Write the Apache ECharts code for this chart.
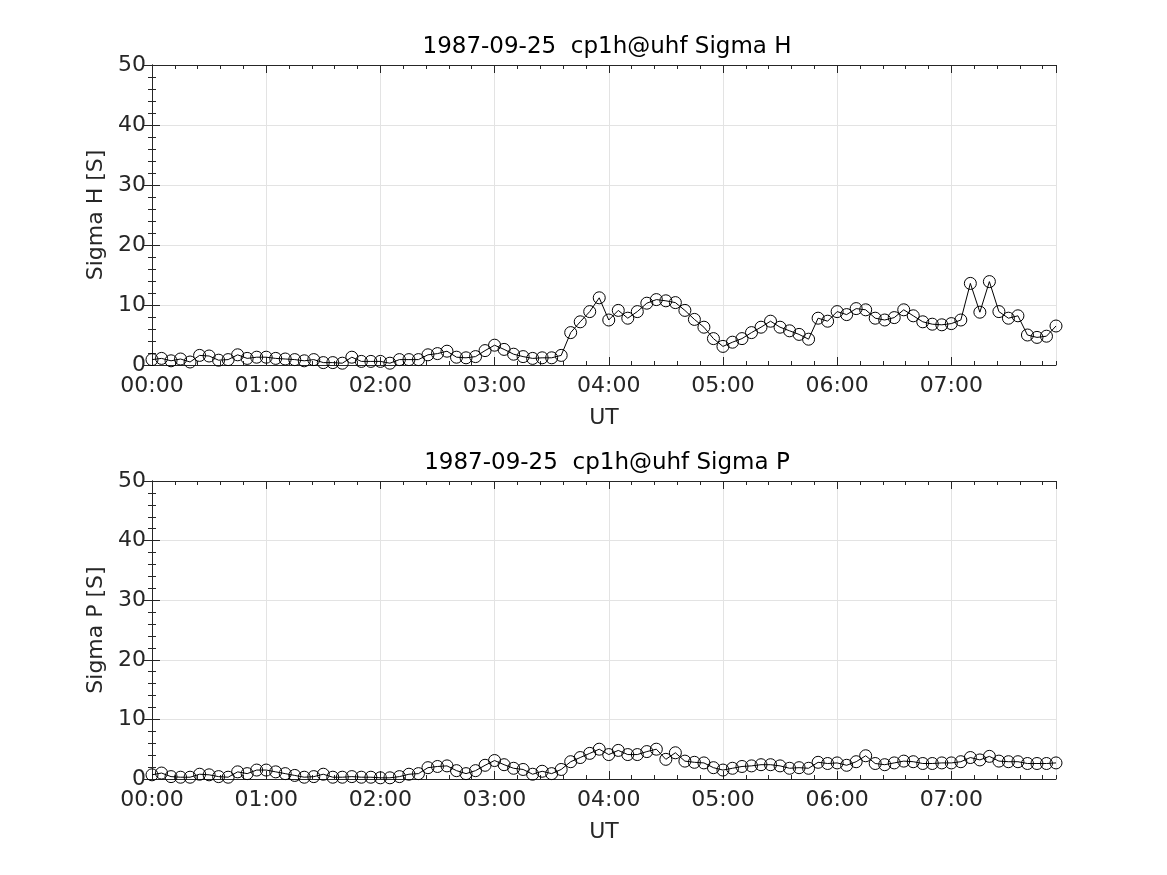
<!DOCTYPE html>
<html>
<head>
<meta charset="utf-8">
<script src="https://cdn.jsdelivr.net/npm/echarts@6/dist/echarts.min.js"></script>
<style>html,body{margin:0;padding:0;background:#fff}#c{width:1167px;height:875px}</style>
</head>
<body>
<div id="c"></div>
<script>
const minutes = [0,5,10,15,20,25,30,35,40,45,50,55,60,65,70,75,80,85,90,95,100,105,110,115,120,125,130,135,140,145,150,155,160,165,170,175,180,185,190,195,200,205,210,215,220,225,230,235,240,245,250,255,260,265,270,275,280,285,290,295,300,305,310,315,320,325,330,335,340,345,350,355,360,365,370,375,380,385,390,395,400,405,410,415,420,425,430,435,440,445,450,455,460,465,470,475];
const sigmaH = [0.9,1.1,0.7,1.0,0.5,1.6,1.5,0.8,0.9,1.7,1.1,1.3,1.3,1.1,1.0,0.9,0.7,0.9,0.4,0.4,0.3,1.3,0.6,0.6,
  0.6,0.3,0.9,0.9,0.9,1.7,1.9,2.3,1.3,1.2,1.4,2.4,3.3,2.6,1.8,1.4,1.1,1.2,1.2,1.6,5.4,7.2,8.9,11.2,
  7.5,9.1,7.8,8.9,10.3,10.9,10.7,10.4,9.1,7.6,6.3,4.4,3.1,3.8,4.4,5.4,6.3,7.3,6.3,5.7,5.1,4.3,7.8,7.3,
  8.9,8.4,9.4,9.2,7.8,7.5,7.9,9.2,8.2,7.2,6.8,6.7,6.9,7.5,13.6,8.8,13.9,8.9,7.8,8.2,5.0,4.6,4.8,6.5];
const sigmaP = [0.7,1.0,0.4,0.3,0.3,0.8,0.7,0.4,0.3,1.2,0.9,1.5,1.5,1.2,0.9,0.6,0.3,0.4,0.8,0.3,0.3,0.4,0.3,0.3,
  0.2,0.2,0.4,0.8,0.9,1.9,2.1,2.2,1.4,0.9,1.4,2.3,3.1,2.4,1.8,1.6,0.8,1.3,0.9,1.6,2.9,3.6,4.3,5.0,
  4.1,4.8,4.1,4.1,4.6,5.0,3.3,4.4,3.0,2.8,2.7,1.9,1.5,1.8,2.1,2.2,2.4,2.4,2.2,1.8,1.9,1.8,2.8,2.6,
  2.7,2.3,2.9,3.9,2.6,2.4,2.7,3.0,2.9,2.6,2.6,2.7,2.7,2.9,3.6,3.2,3.8,3.0,2.9,2.9,2.6,2.6,2.6,2.7];
const titles = ['1987-09-25  cp1h@uhf Sigma H', '1987-09-25  cp1h@uhf Sigma P'];
const yNames = ['Sigma H [S]', 'Sigma P [S]'];
const xName = 'UT';
const yMin = 0, yMax = 50, yStep = 10;
const xMin = 0, xMax = 475, xStep = 60, xMinorStep = 12;

const FONT = 'DejaVu Sans';
const AX = '#262626';
const grids = [
  {left:152, top:65, width:904, height:300},
  {left:152, top:481, width:904, height:298}
];
function fmt(v){const h=Math.floor(v/60), m=Math.round(v%60);return String(h).padStart(2,'0')+':'+String(m).padStart(2,'0');}
const xAxis=[], yAxis=[], series=[], title=[];
[sigmaH, sigmaP].forEach((vals, g) => {
  const gr = grids[g];
  title.push({text:titles[g], left: gr.left+gr.width/2 - 2, top: gr.top-34, textAlign:'center',
    textStyle:{fontFamily:FONT, fontSize:23, fontWeight:'normal', color:'#000'}});
  const base = {gridIndex:g, type:'value', min:xMin, max:xMax};
  xAxis.push(Object.assign({}, base, {position:'bottom', interval:xStep,
    axisLine:{show:true, lineStyle:{color:AX, width:1}},
    axisTick:{show:true, inside:true, length:8, lineStyle:{color:AX}},
    splitLine:{show:true, lineStyle:{color:'#e3e3e3', width:1}},
    axisLabel:{show:true, formatter:fmt, fontFamily:FONT, fontSize:22, color:AX, margin:10, showMaxLabel:false},
    name:xName, nameLocation:'middle', nameGap:42, nameTextStyle:{fontFamily:FONT, fontSize:22, color:AX}}));
  xAxis.push(Object.assign({}, base, {position:'bottom', interval:xMinorStep,
    axisLine:{show:false}, axisTick:{show:true, inside:true, length:4, lineStyle:{color:AX}},
    splitLine:{show:false}, axisLabel:{show:false}}));
  xAxis.push(Object.assign({}, base, {position:'top', interval:xStep,
    axisLine:{show:true, lineStyle:{color:AX, width:1}},
    axisTick:{show:true, inside:true, length:8, lineStyle:{color:AX}},
    splitLine:{show:false}, axisLabel:{show:false}}));
  xAxis.push(Object.assign({}, base, {position:'top', interval:xMinorStep,
    axisLine:{show:false}, axisTick:{show:true, inside:true, length:4, lineStyle:{color:AX}},
    splitLine:{show:false}, axisLabel:{show:false}}));
  const yb = {gridIndex:g, type:'value', min:yMin, max:yMax, interval:yStep};
  yAxis.push(Object.assign({}, yb, {position:'left',
    axisLine:{show:true, lineStyle:{color:AX, width:1}},
    axisTick:{show:true, inside:true, length:8, lineStyle:{color:AX}},
    minorTick:{show:true, splitNumber:5, length:4, lineStyle:{color:AX}},
    splitLine:{show:true, lineStyle:{color:'#e3e3e3', width:1}},
    axisLabel:{fontFamily:FONT, fontSize:22, color:AX, margin:6},
    name:yNames[g], nameLocation:'middle', nameGap:45, nameRotate:90,
    nameTextStyle:{fontFamily:FONT, fontSize:22, color:AX}}));
  yAxis.push(Object.assign({}, yb, {position:'right',
    axisLine:{show:true, lineStyle:{color:AX, width:1}},
    axisTick:{show:true, inside:true, length:8, lineStyle:{color:AX}},
    minorTick:{show:true, splitNumber:5, length:4, lineStyle:{color:AX}},
    splitLine:{show:false}, axisLabel:{show:false}}));
  series.push({type:'line', xAxisIndex:g*4, yAxisIndex:g*2,
    data: minutes.map((m,i)=>[m, vals[i]]),
    symbol:'circle', symbolSize:12, showSymbol:true,
    lineStyle:{color:'#000', width:1},
    itemStyle:{color:'rgba(0,0,0,0)', borderColor:'#000', borderWidth:1},
    animation:false, silent:true});
});
const chart = echarts.init(document.getElementById('c'), null, {renderer:'canvas'});
chart.setOption({backgroundColor:'#fff', animation:false, title, grid:grids, xAxis, yAxis, series});
</script>
</body>
</html>
